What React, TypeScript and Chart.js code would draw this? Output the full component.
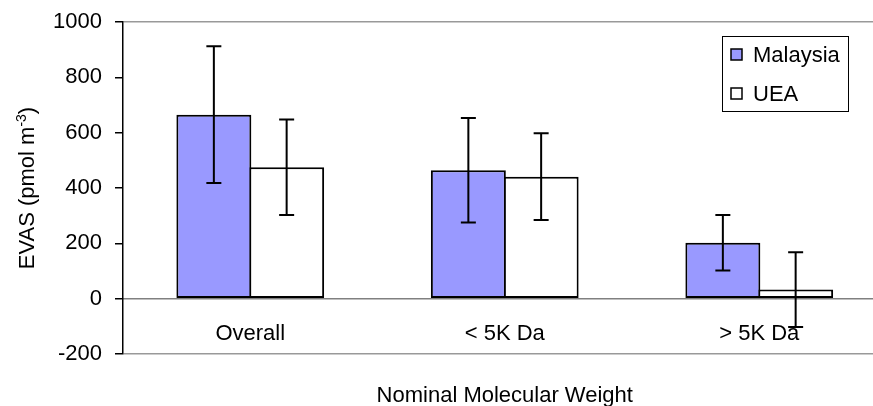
import { useEffect, useRef } from 'react';
import { Chart, registerables } from 'chart.js';

Chart.register(...registerables);

const categories = ['Overall', '< 5K Da', '> 5K Da'];
const seriesNames = ['Malaysia', 'UEA'];
const malaysiaValues = [665, 464, 202];
const malaysiaErrors = [247, 189, 100];
const ueaValues = [475, 441, 33];
const ueaErrors = [173, 157, 135];
const yTickValues = [-200, 0, 200, 400, 600, 800, 1000];
const xTitle = 'Nominal Molecular Weight';
const yTitleMain = 'EVAS (pmol m';
const yTitleSup = '-3';
const yTitleEnd = ')';

const FAMILY = '"Liberation Sans", Arial, sans-serif';

const errorBarPlugin = {
  id: 'errorBars',
  afterDatasetsDraw(chart: any) {
    const ctx = chart.ctx;
    const y = chart.scales.y;
    chart.data.datasets.forEach((ds: any, i: number) => {
      const meta = chart.getDatasetMeta(i);
      meta.data.forEach((el: any, j: number) => {
        const v = ds.data[j];
        const e = ds.errors[j];
        const x = el.x;
        const top = y.getPixelForValue(v + e);
        const bot = y.getPixelForValue(v - e);
        ctx.save();
        ctx.strokeStyle = '#000';
        ctx.lineWidth = 2;
        ctx.beginPath();
        ctx.moveTo(x, top);
        ctx.lineTo(x, bot);
        ctx.moveTo(x - 7.5, top);
        ctx.lineTo(x + 7.5, top);
        ctx.moveTo(x - 7.5, bot);
        ctx.lineTo(x + 7.5, bot);
        ctx.stroke();
        ctx.restore();
      });
    });
  },
};

const decorPlugin = {
  id: 'decor',
  afterDraw(chart: any) {
    const ctx = chart.ctx;
    const area = chart.chartArea;
    ctx.save();
    // Legend box
    ctx.strokeStyle = '#000';
    ctx.lineWidth = 1;
    ctx.strokeRect(722.5, 36.5, 126, 75);
    ctx.font = `22px ${FAMILY}`;
    ctx.textBaseline = 'alphabetic';
    ctx.textAlign = 'left';
    const rows = [
      { sy: 49, ty: 62 },
      { sy: 88, ty: 101 },
    ];
    chart.data.datasets.forEach((ds: any, i: number) => {
      const r = rows[i];
      ctx.fillStyle = ds.backgroundColor;
      ctx.fillRect(731, r.sy, 11, 11);
      ctx.lineWidth = 1.5;
      ctx.strokeStyle = '#000';
      ctx.strokeRect(731, r.sy, 11, 11);
      ctx.fillStyle = '#000';
      ctx.fillText(ds.label, 753, r.ty);
    });

    // X title
    ctx.textAlign = 'center';
    ctx.textBaseline = 'middle';
    ctx.fillStyle = '#000';
    ctx.fillText(xTitle, (area.left + area.right) / 2, 396);

    // Y title (rotated, with superscript)
    const cy = (area.top + area.bottom) / 2;
    ctx.translate(26, cy);
    ctx.rotate(-Math.PI / 2);
    ctx.textAlign = 'left';
    ctx.textBaseline = 'alphabetic';
    ctx.font = `22px ${FAMILY}`;
    const w1 = ctx.measureText(yTitleMain).width;
    const w3 = ctx.measureText(yTitleEnd).width;
    ctx.font = `14px ${FAMILY}`;
    const w2 = ctx.measureText(yTitleSup).width;
    const total = w1 + w2 + w3;
    let x0 = -total / 2;
    ctx.font = `22px ${FAMILY}`;
    ctx.fillText(yTitleMain, x0, 7.5);
    x0 += w1;
    ctx.font = `14px ${FAMILY}`;
    ctx.fillText(yTitleSup, x0, -0.5);
    x0 += w2;
    ctx.font = `22px ${FAMILY}`;
    ctx.fillText(yTitleEnd, x0, 7.5);
    ctx.restore();
  },
};

export default function App() {
  const ref = useRef<HTMLCanvasElement>(null);

  useEffect(() => {
    if (!ref.current) return;
    const chart = new Chart(ref.current, {
      type: 'bar',
      data: {
        labels: categories,
        datasets: [
          {
            label: seriesNames[0],
            data: malaysiaValues,
            errors: malaysiaErrors,
            backgroundColor: '#9999ff',
            borderColor: '#000',
            borderWidth: 2,
            borderSkipped: false,
          } as any,
          {
            label: seriesNames[1],
            data: ueaValues,
            errors: ueaErrors,
            backgroundColor: '#ffffff',
            borderColor: '#000',
            borderWidth: 2,
            borderSkipped: false,
          } as any,
        ],
      },
      options: {
        responsive: false,
        animation: false,
        devicePixelRatio: 1,
        layout: { padding: { top: 22, right: 13.5, bottom: 52, left: 0 } },
        datasets: { bar: { barPercentage: 1.03, categoryPercentage: 0.572 } },
        plugins: {
          legend: { display: false },
          tooltip: { enabled: false },
          title: { display: false },
        },
        scales: {
          x: {
            position: { y: 0 } as any,
            offset: true,
            afterFit: (s: any) => {
              s.paddingTop = 0;
              s.paddingBottom = 0;
            },
            grid: { display: false, drawTicks: false },
            border: { display: true, color: '#808080', width: 1.5 },
            ticks: {
              font: { family: FAMILY, size: 22 },
              color: '#000',
              padding: 22,
              maxRotation: 0,
            },
          },
          y: {
            min: -200,
            max: 1000,
            afterBuildTicks: (s: any) => {
              s.ticks = yTickValues.map((v) => ({ value: v }));
            },
            afterFit: (s: any) => {
              s.width = 123;
              s.paddingTop = 0;
              s.paddingBottom = 0;
            },
            ticks: {
              font: { family: FAMILY, size: 22 },
              color: '#000',
              padding: 13,
              callback: (v: any) => String(v),
            },
            grid: {
              color: (c: any) =>
                c.tick && (c.tick.value === 1000 || c.tick.value === -200)
                  ? '#999999'
                  : 'rgba(0,0,0,0)',
              tickColor: '#000',
              tickLength: 8,
              lineWidth: 1.5,
              drawTicks: true,
            },
            border: { color: '#000', width: 1.5 },
          },
        },
      },
      plugins: [errorBarPlugin, decorPlugin],
    });
    return () => chart.destroy();
  }, []);

  return (
    <div
      style={{
        position: 'fixed',
        left: 0,
        top: 0,
        width: 873,
        height: 406,
        overflow: 'hidden',
        background: '#fff',
      }}
    >
      <canvas ref={ref} width={900} height={406} style={{ display: 'block' }} />
    </div>
  );
}
